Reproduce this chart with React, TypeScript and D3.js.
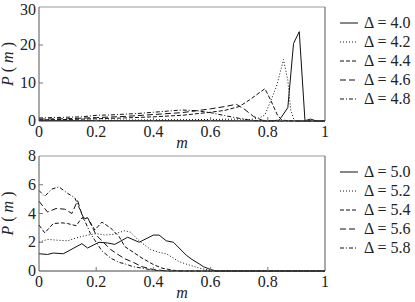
import React from 'react';
import * as d3 from 'd3';

type Pt = [number, number];

// top panel: Δ = 4.0 .. 4.8
const topLabels = ['Δ = 4.0', 'Δ = 4.2', 'Δ = 4.4', 'Δ = 4.6', 'Δ = 4.8'];
const d40: Pt[] = [[0, 0.1], [0.2, 0.1], [0.4, 0.1], [0.6, 0.1], [0.7, 0.05], [0.8, 0.05], [0.84, 0.2], [0.87, 3.5], [0.89, 20.4], [0.91, 23.5], [0.93, 0.1], [0.95, 0.5], [0.97, 0], [1, 0]];
const d42: Pt[] = [[0, 0.2], [0.2, 0.2], [0.4, 0.3], [0.6, 0.4], [0.7, 0.5], [0.74, 0.4], [0.77, 0.8], [0.79, 1.6], [0.83, 9], [0.855, 16.2], [0.87, 10.7], [0.88, 2.9], [0.892, 0.2], [0.9, 0], [1, 0]];
const d44: Pt[] = [[0, 0.3], [0.1, 0.4], [0.2, 0.6], [0.3, 0.8], [0.4, 1.1], [0.5, 1.5], [0.6, 2.3], [0.65, 2.8], [0.7, 3.8], [0.735, 5.5], [0.79, 8.5], [0.81, 5.5], [0.834, 1.5], [0.85, 0.2], [0.9, 0], [1, 0]];
const d46: Pt[] = [[0, 0.5], [0.1, 0.6], [0.2, 0.9], [0.3, 1.2], [0.4, 1.7], [0.5, 2.2], [0.6, 3.2], [0.65, 3.8], [0.69, 4.4], [0.72, 3.0], [0.75, 1.2], [0.78, 0.2], [0.8, 0], [1, 0]];
const d48: Pt[] = [[0, 0.8], [0.05, 0.9], [0.1, 1.0], [0.15, 1.1], [0.2, 1.5], [0.25, 1.6], [0.3, 1.8], [0.35, 2.0], [0.4, 2.3], [0.45, 2.6], [0.5, 2.9], [0.55, 2.7], [0.6, 2.2], [0.65, 1.4], [0.7, 0.7], [0.74, 0.2], [0.78, 0], [1, 0]];

// bottom panel: Δ = 5.0 .. 5.8
const bottomLabels = ['Δ = 5.0', 'Δ = 5.2', 'Δ = 5.4', 'Δ = 5.6', 'Δ = 5.8'];
const d50: Pt[] = [[0, 1.2], [0.03, 1.15], [0.05, 1.25], [0.085, 1.2], [0.15, 1.9], [0.17, 1.6], [0.21, 2.0], [0.24, 1.95], [0.265, 1.85], [0.31, 2.35], [0.35, 2.0], [0.4, 2.5], [0.42, 2.5], [0.445, 2.1], [0.47, 2.0], [0.49, 1.6], [0.515, 1.1], [0.535, 0.8], [0.56, 0.5], [0.575, 0.3], [0.6, 0.1], [0.62, 0], [1, 0]];
const d52: Pt[] = [[0, 2.0], [0.03, 2.2], [0.06, 2.15], [0.1, 2.1], [0.13, 2.3], [0.17, 2.5], [0.2, 2.6], [0.23, 2.5], [0.26, 2.55], [0.3, 2.8], [0.32, 2.7], [0.35, 2.1], [0.39, 1.5], [0.42, 1.3], [0.445, 1.2], [0.47, 0.9], [0.49, 0.65], [0.52, 0.45], [0.545, 0.3], [0.57, 0.15], [0.6, 0.05], [0.65, 0], [1, 0]];
const d54: Pt[] = [[0, 3.2], [0.02, 2.65], [0.05, 3.3], [0.08, 3.35], [0.1, 3.3], [0.13, 3.15], [0.15, 3.7], [0.17, 3.7], [0.195, 2.85], [0.22, 3.4], [0.25, 3.0], [0.28, 2.4], [0.3, 1.7], [0.33, 1.3], [0.36, 0.9], [0.4, 0.45], [0.43, 0.2], [0.47, 0.05], [0.5, 0], [1, 0]];
const d56: Pt[] = [[0, 4.85], [0.03, 4.1], [0.06, 4.35], [0.09, 4.3], [0.115, 4.0], [0.135, 4.9], [0.155, 3.6], [0.17, 3.7], [0.19, 2.9], [0.2, 2.5], [0.22, 2.1], [0.25, 1.5], [0.28, 1.1], [0.3, 0.85], [0.33, 0.6], [0.36, 0.3], [0.4, 0.1], [0.45, 0], [1, 0]];
const d58: Pt[] = [[0, 5.6], [0.02, 5.2], [0.045, 5.7], [0.07, 5.85], [0.1, 5.4], [0.125, 5.1], [0.145, 4.2], [0.16, 3.5], [0.18, 2.6], [0.2, 2.0], [0.22, 1.4], [0.25, 0.9], [0.28, 0.6], [0.3, 0.5], [0.33, 0.3], [0.36, 0.2], [0.4, 0.05], [0.45, 0], [1, 0]];

const xTicks = [0, 0.2, 0.4, 0.6, 0.8, 1];
const topYTicks = [0, 10, 20, 30];
const bottomYTicks = [0, 2, 4, 6, 8];

const dashes = ['none', '1,2', '4,2', '6,3', '4,2,1,2'];
const font = 'Liberation Serif';

const left = 39;
const right = 325;

interface PanelProps {
  top: number;
  bottom: number;
  yMax: number;
  yTicks: number[];
  series: Pt[][];
  labels: string[];
  legendY: number;
}

const Panel = ({ top, bottom, yMax, yTicks, series, labels, legendY }: PanelProps) => {
  const x = d3.scaleLinear().domain([0, 1]).range([left, right]);
  const y = d3.scaleLinear().domain([0, yMax]).range([bottom, top]);
  const line = d3.line<Pt>().x(d => x(d[0])).y(d => y(d[1]));

  return (
    <g fontFamily={font} fontSize={16} fill="#222">
      {series.map((s, i) => (
        <path key={i} d={line(s) || ''} fill="none" stroke="#111" strokeWidth={1}
          strokeDasharray={dashes[i]} />
      ))}
      {/* frame */}
      <line x1={left} x2={right} y1={top} y2={top} stroke="#999" />
      <line x1={right} x2={right} y1={top} y2={bottom} stroke="#555" />
      <line x1={left} x2={left} y1={top} y2={bottom} stroke="#555" />
      <line x1={left} x2={right} y1={bottom} y2={bottom} stroke="#444" />
      {xTicks.slice(1, -1).map(t => (
        <line key={t} x1={x(t)} x2={x(t)} y1={bottom} y2={bottom - 4} stroke="#777" />
      ))}
      {yTicks.slice(1, -1).map(t => (
        <line key={t} x1={left} x2={left + 4} y1={y(t)} y2={y(t)} stroke="#777" />
      ))}
      {xTicks.map(t => (
        <text key={t} x={x(t)} y={bottom + 16} textAnchor="middle">{String(t)}</text>
      ))}
      {yTicks.map(t => (
        <text key={t} x={left - 3} y={Math.max(y(t) + 5, 15)} textAnchor="end">{String(t)}</text>
      ))}
      <text x={(left + right) / 2} y={bottom + 27} textAnchor="middle" fontStyle="italic">m</text>
      <text transform={`translate(13,${(top + bottom) / 2}) rotate(-90)`} textAnchor="middle">
        <tspan fontStyle="italic">P</tspan> ( <tspan fontStyle="italic">m</tspan> )
      </text>
      {labels.map((lab, i) => (
        <g key={lab} transform={`translate(0,${legendY + i * 19})`}>
          <line x1={340} x2={358} y1={0} y2={0} stroke="#111" strokeDasharray={dashes[i]} />
          <text x={364} y={5}>{lab}</text>
        </g>
      ))}
    </g>
  );
};

export default function App() {
  return (
    <svg width={415} height={302} style={{ position: 'absolute', left: 0, top: 0, background: '#fff' }}>
      <Panel top={7} bottom={121} yMax={30} yTicks={topYTicks}
        series={[d40, d42, d44, d46, d48]} labels={topLabels} legendY={23} />
      <Panel top={156} bottom={271} yMax={8} yTicks={bottomYTicks}
        series={[d50, d52, d54, d56, d58]} labels={bottomLabels} legendY={172} />
    </svg>
  );
}
